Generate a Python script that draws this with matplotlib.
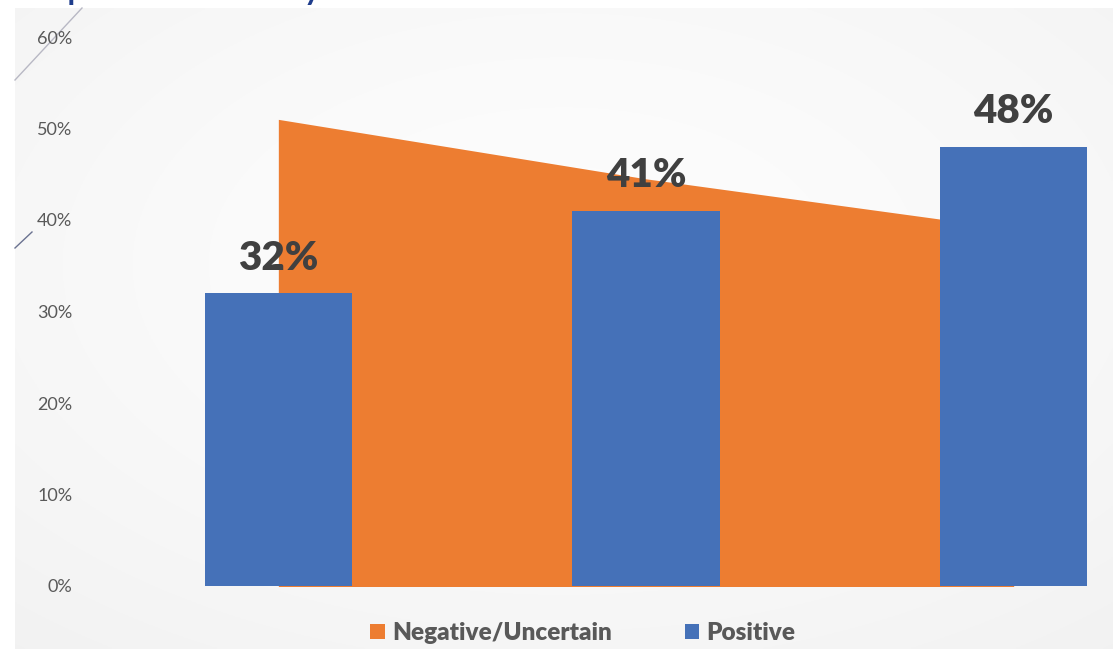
import numpy as np
import matplotlib
matplotlib.use("Agg")
import matplotlib.pyplot as plt
from matplotlib.patches import Patch
from matplotlib.lines import Line2D

# Data
categories = ["Group 1", "Group 2", "Group 3"]
negative_uncertain = [0.51, 0.445, 0.39]
positive = [0.32, 0.41, 0.48]
y_ticks = [0, 0.1, 0.2, 0.3, 0.4, 0.5, 0.6]
series_names = ["Negative/Uncertain", "Positive"]
heading = "Opinion Survey"

ORANGE = "#ED7D31"
BLUE = "#4571B8"
TEXT_GRAY = "#595959"
LABEL_DARK = "#404040"

W, H = 1113, 649
fig = plt.figure(figsize=(W / 100, H / 100), dpi=100, facecolor="white")

# Soft radial background panel
bg = fig.add_axes([15 / W, 0, 1 - 15 / W, (H - 8) / H], zorder=0)
yy, xx = np.mgrid[0:1:300j, 0:1:500j]
r = np.sqrt(((xx - 0.5) / 0.8) ** 2 + ((yy - 0.6) / 0.8) ** 2)
shade = 0.992 - 0.045 * np.clip(r, 0, 1.2) ** 1.5
bg.imshow(np.dstack([shade, shade, shade]), aspect="auto", extent=[0, 1, 0, 1], origin="lower")
bg.set_axis_off()

# Decorative slide strokes at the top-left
fig.add_artist(Line2D([15 / W, 82 / W], [1 - 80 / H, 1 - 8 / H], color="#b8b8c4", lw=1.0, zorder=1))
fig.add_artist(Line2D([15 / W, 32 / W], [1 - 248 / H, 1 - 232 / H], color="#6a7290", lw=1.0, zorder=1))

# Main chart
ax = fig.add_axes([94.5 / W, 63 / H, 1103 / W, 549 / H], zorder=2)
ax.patch.set_alpha(0)
x = np.arange(len(categories))

# Both series start a little below the axis floor so the axes clip gives one
# shared, crisp bottom edge.
floor = -0.02
ax.fill_between(x, floor, negative_uncertain, color=ORANGE, linewidth=0, zorder=1,
                label=series_names[0])
bars = ax.bar(x, np.array(positive) - floor, bottom=floor, width=0.4, color=BLUE,
              zorder=2, label=series_names[1])

for xi, v in zip(x, positive):
    ax.annotate(f"{v:.0%}", xy=(xi, v), xytext=(0, 12), textcoords="offset points",
                ha="center", va="bottom", fontsize=29, fontweight="heavy",
                family="Lato", color=LABEL_DARK, zorder=3)

ax.set_xlim(-0.5, 2.5)
ax.set_ylim(0, 0.6)
ax.set_yticks(y_ticks)
ax.set_yticklabels([f"{t:.0%}" for t in y_ticks], fontsize=13, color=TEXT_GRAY, family="Lato")
ax.set_xticks([])
ax.tick_params(axis="y", length=0, pad=16)
for s in ax.spines.values():
    s.set_visible(False)

handles = [Patch(facecolor=ORANGE, edgecolor="none"), Patch(facecolor=BLUE, edgecolor="none")]
leg = fig.legend(handles, series_names, loc="center", bbox_to_anchor=(583 / W, 1 - 633 / H),
                 ncol=2, frameon=False, handlelength=0.6, handleheight=0.6, handletextpad=0.3,
                 columnspacing=3.0, prop={"family": "Lato", "weight": "heavy", "size": 17.5})
for t in leg.get_texts():
    t.set_color(TEXT_GRAY)

# Heading above the chart panel
fig.text(32 / W, 1 + 2 / H, heading, fontsize=31, color="#1F3D8C",
         family="Lato", ha="left", va="baseline", zorder=3)

fig.savefig("out.png", dpi=100, facecolor="white")
